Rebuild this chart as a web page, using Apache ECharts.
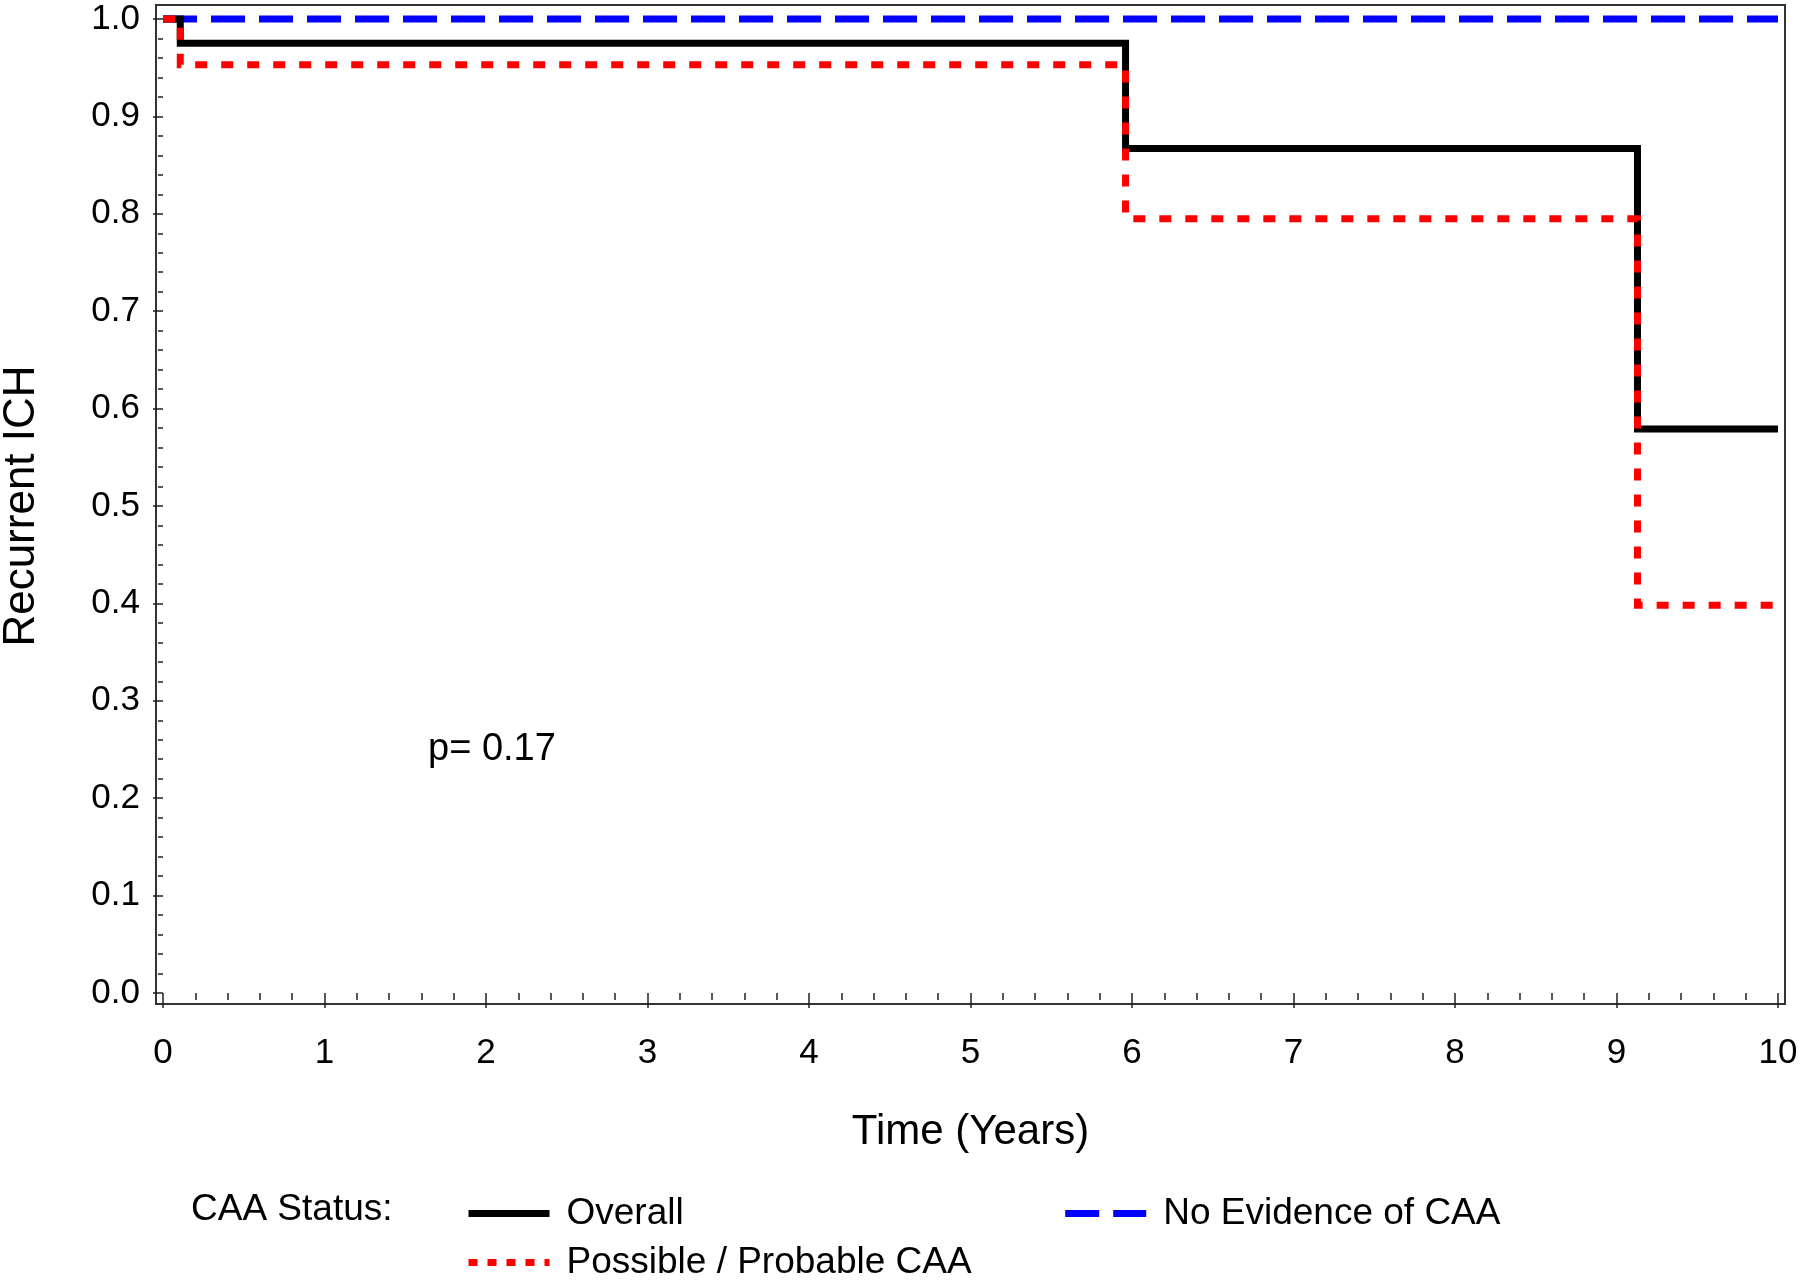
<!DOCTYPE html>
<html>
<head>
<meta charset="utf-8">
<script src="https://cdn.jsdelivr.net/npm/echarts@6/dist/echarts.min.js"></script>
<style>
html,body{margin:0;padding:0;background:#fff;}
#chart{width:1800px;height:1286px;}
</style>
</head>
<body>
<div id="chart"></div>
<script>
// ---- data ----
const overallTimes   = [0, 0.107, 5.96, 9.13, 10.0];
const overallValues  = [1.0, 0.975, 0.867, 0.579, 0.579];
const possibleTimes  = [0, 0.107, 5.96, 9.13, 10.0];
const possibleValues = [1.0, 0.953, 0.795, 0.398, 0.398];
const noEvidenceTimes  = [0, 10.0];
const noEvidenceValues = [1.0, 1.0];
const seriesNames = ['Overall', 'No Evidence of CAA', 'Possible / Probable CAA'];
const xAxisTitle = 'Time (Years)';
const yAxisTitle = 'Recurrent ICH';
const legendTitle = 'CAA Status:';
const pValueText = 'p= 0.17';

const FONT = '"Liberation Sans", Arial, Helvetica, sans-serif';
const pairs = (xs, ys) => xs.map((x, i) => [x, ys[i]]);

const chart = echarts.init(document.getElementById('chart'), null, {renderer: 'canvas'});

const legendCommon = {
  orient: 'horizontal', itemWidth: 81, itemHeight: 14,
  textStyle: {fontSize: 37, color: '#000', fontFamily: FONT, padding: [0, 0, 0, 12]},
  itemStyle: {color: 'rgba(0,0,0,0)', borderWidth: 0, opacity: 0},
  lineStyle: {width: 7},
  selectedMode: false
};

const option = {
  backgroundColor: '#fff',
  animation: false,
  textStyle: {fontFamily: FONT, color: '#000'},
  grid: [
    {left: 163, right: 22, top: 19, bottom: 293, outerBoundsMode: 'none', containLabel: false},
    {left: 156, right: 15, top: 5, bottom: 282, outerBoundsMode: 'none', containLabel: false,
     show: true, borderColor: '#333', borderWidth: 2, backgroundColor: 'transparent'}
  ],
  xAxis: [
    {
      type: 'value', gridIndex: 0, min: 0, max: 10, interval: 1, offset: 11,
      axisLine: {show: false},
      axisTick: {show: true, length: 15, lineStyle: {color: '#222', width: 1.5}},
      minorTick: {show: true, splitNumber: 5, length: 7, lineStyle: {color: '#222', width: 1.5}},
      splitLine: {show: false},
      axisLabel: {fontSize: 35, color: '#000', fontFamily: FONT, margin: 32},
      name: xAxisTitle, nameLocation: 'middle', nameGap: 107,
      nameTextStyle: {fontSize: 42, color: '#000', fontFamily: FONT}
    },
    {type: 'value', gridIndex: 1, show: false, min: 0, max: 1}
  ],
  yAxis: [
    {
      type: 'value', gridIndex: 0, min: 0, max: 1, interval: 0.1, offset: 7,
      axisLine: {show: false},
      axisTick: {show: true, length: 10, lineStyle: {color: '#222', width: 1.5}},
      minorTick: {show: true, splitNumber: 5, length: 5, lineStyle: {color: '#222', width: 1.5}},
      splitLine: {show: false},
      axisLabel: {fontSize: 35, color: '#000', fontFamily: FONT, margin: 16,
                  formatter: v => v.toFixed(1)},
      name: yAxisTitle, nameLocation: 'middle', nameGap: 112, nameRotate: 90,
      nameTextStyle: {fontSize: 44, color: '#000', fontFamily: FONT}
    },
    {type: 'value', gridIndex: 1, show: false, min: 0, max: 1}
  ],
  legend: [
    Object.assign({}, legendCommon, {
      left: 460, top: 1190, itemGap: 378,
      data: [seriesNames[0], seriesNames[1]]
    }),
    Object.assign({}, legendCommon, {
      left: 460, top: 1239,
      data: [{name: seriesNames[2], lineStyle: {type: [9, 10], width: 7}}]
    })
  ],
  graphic: [
    {type: 'text', x: 191, y: 1210,
     style: {text: legendTitle, font: '37px ' + FONT, fill: '#000', align: 'left', verticalAlign: 'middle'}},
    {type: 'text', x: 428, y: 750,
     style: {text: pValueText, font: '38px ' + FONT, fill: '#000', align: 'left', verticalAlign: 'middle'}}
  ],
  series: [
    {
      name: seriesNames[1], type: 'line', step: 'end', xAxisIndex: 0, yAxisIndex: 0,
      data: pairs(noEvidenceTimes, noEvidenceValues),
      symbol: 'none', showSymbol: false, clip: false, z: 2,
      itemStyle: {color: '#0000ff'},
      lineStyle: {color: '#0000ff', width: 7, type: [34, 14], cap: 'butt', join: 'miter'}
    },
    {
      name: seriesNames[0], type: 'line', step: 'end', xAxisIndex: 0, yAxisIndex: 0,
      data: pairs(overallTimes, overallValues),
      symbol: 'none', showSymbol: false, clip: false, z: 3,
      itemStyle: {color: '#000000'},
      lineStyle: {color: '#000000', width: 7, type: 'solid', cap: 'butt', join: 'miter'}
    },
    {
      name: seriesNames[2], type: 'line', step: 'end', xAxisIndex: 0, yAxisIndex: 0,
      data: pairs(possibleTimes, possibleValues),
      symbol: 'none', showSymbol: false, clip: false, z: 4,
      itemStyle: {color: '#ff0000'},
      lineStyle: {color: '#ff0000', width: 7, type: [12, 14], cap: 'butt', join: 'miter'}
    }
  ]
};

chart.setOption(option);
</script>
</body>
</html>
